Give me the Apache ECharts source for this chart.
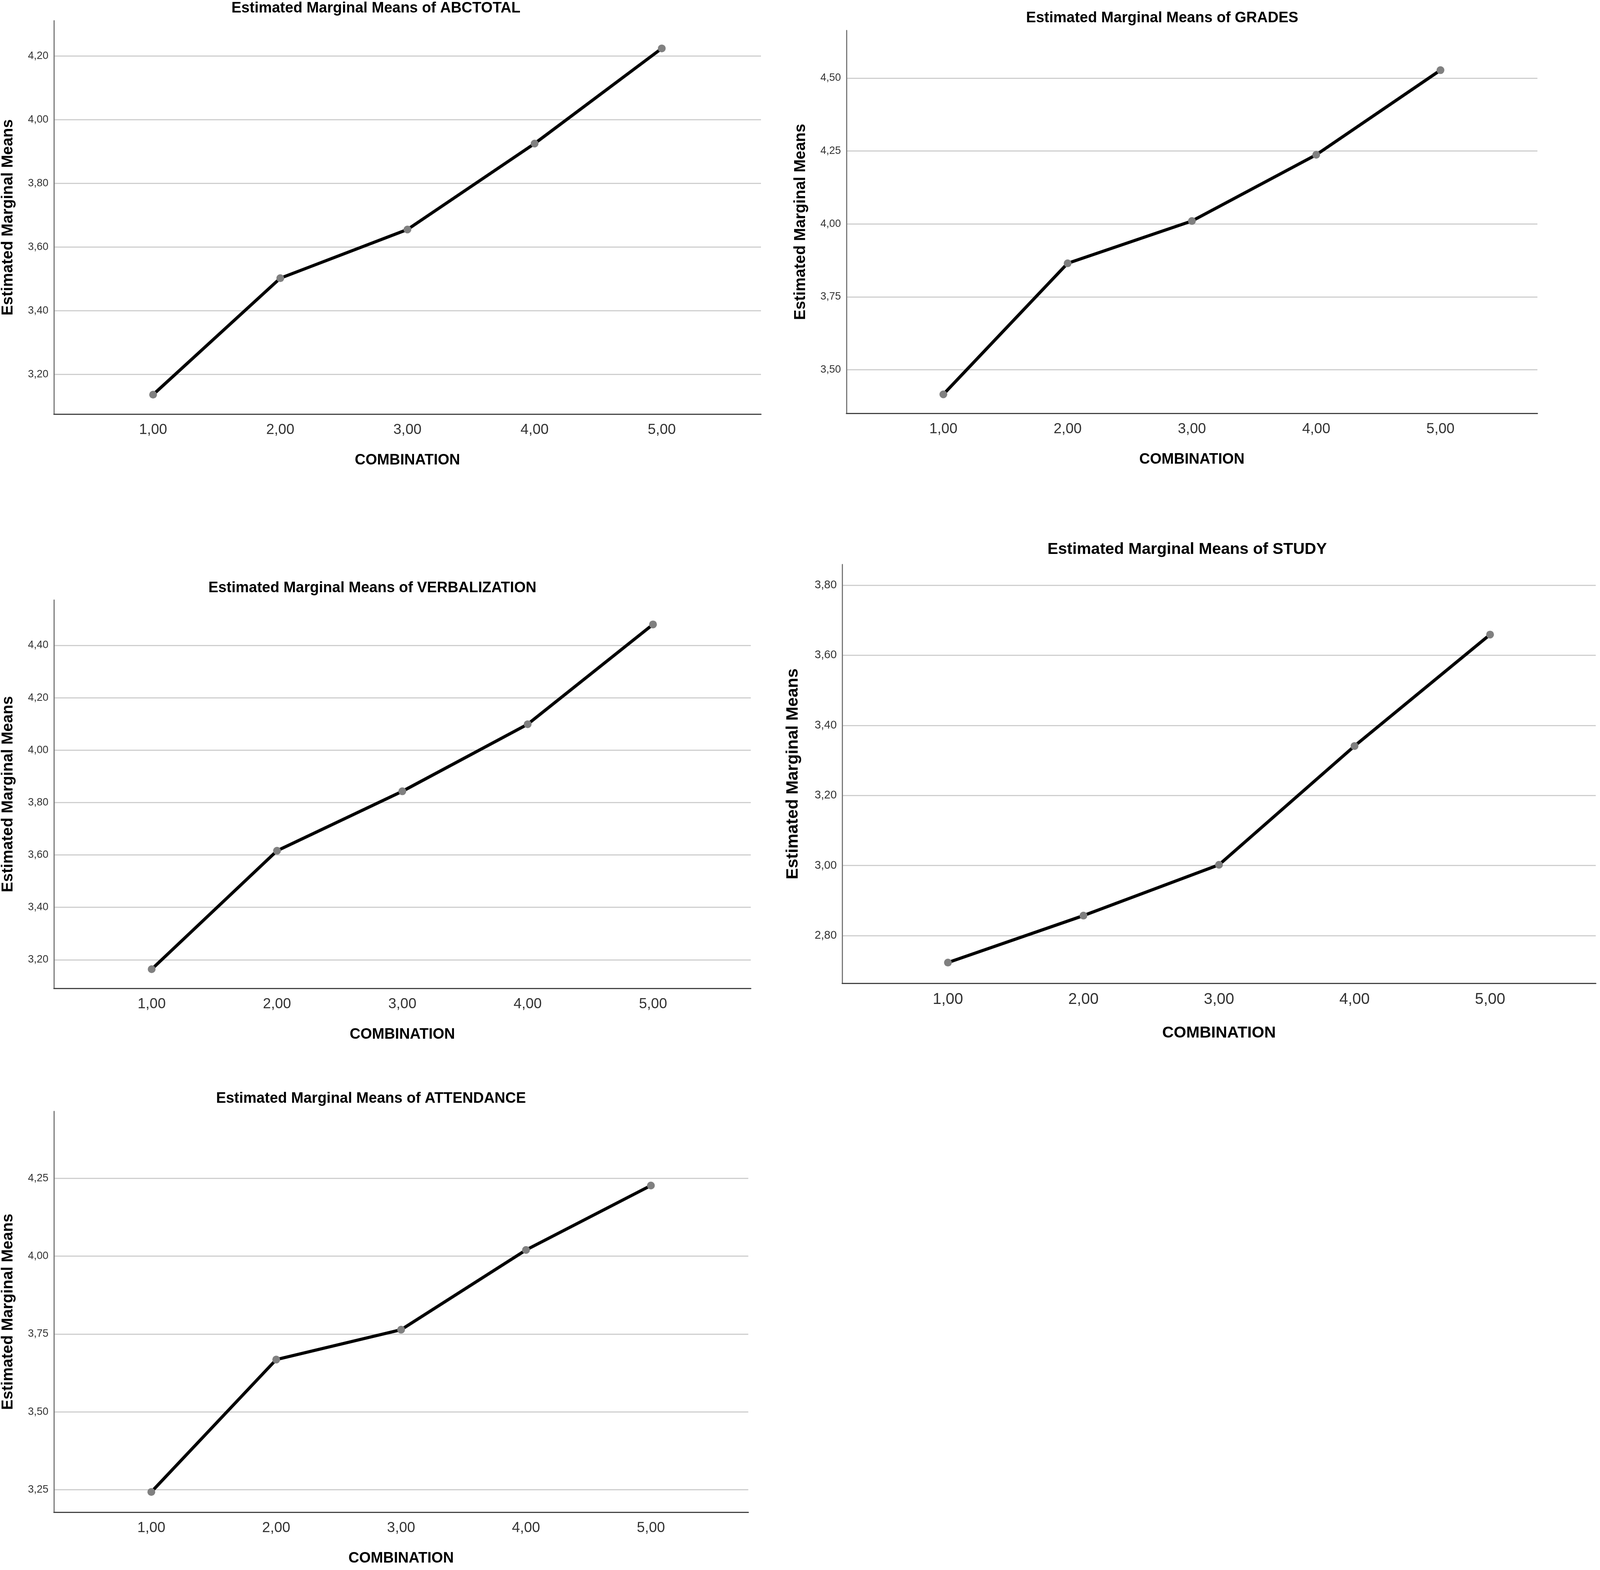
<!DOCTYPE html>
<html>
<head>
<meta charset="utf-8">
<title>Estimated Marginal Means</title>
<script src="https://cdn.jsdelivr.net/npm/echarts@6/dist/echarts.min.js"></script>
<style>
  html, body { margin: 0; padding: 0; background: #fff; overflow: hidden; }
</style>
</head>
<body>
<div id="chart"></div>
<script>
// combination levels on the x axis
const combos = [1, 2, 3, 4, 5];
const xTicks = [1, 2, 3, 4, 5];

// estimated marginal means
const abctotal = [3.136, 3.502, 3.655, 3.925, 4.224];
const grades = [3.416, 3.865, 4.010, 4.237, 4.527];
const verbalization = [3.164, 3.616, 3.843, 4.099, 4.480];
const study = [2.723, 2.857, 3.002, 3.341, 3.659];
const attendance = [3.243, 3.668, 3.764, 4.020, 4.227];

// y tick labels of each plot
const abctotalTicks = [3.2, 3.4, 3.6, 3.8, 4.0, 4.2];
const gradesTicks = [3.5, 3.75, 4.0, 4.25, 4.5];
const verbalizationTicks = [3.2, 3.4, 3.6, 3.8, 4.0, 4.2, 4.4];
const studyTicks = [2.8, 3.0, 3.2, 3.4, 3.6, 3.8];
const attendanceTicks = [3.25, 3.5, 3.75, 4.0, 4.25];

const names = ['ABCTOTAL', 'GRADES', 'VERBALIZATION', 'STUDY', 'ATTENDANCE'];
const values = [abctotal, grades, verbalization, study, attendance];
const ticks = [abctotalTicks, gradesTicks, verbalizationTicks, studyTicks, attendanceTicks];

// plot boxes, axis ranges and title spots, in pixels of the 4550x4019 original
const panels = [
  { left: 149, top: 53, right: 2164, bottom: 1060, yMin: 3.075, yMax: 4.311, tx: 1069, ty: 22, f: 1 },
  { left: 2407, top: 78, right: 4372, bottom: 1058, yMin: 3.351, yMax: 4.663, tx: 3305, ty: 47, f: 1 },
  { left: 146, top: 1536, right: 2135, bottom: 2530, yMin: 3.091, yMax: 4.573, tx: 1059, ty: 1506, f: 1 },
  { left: 2395, top: 1445, right: 4538, bottom: 2517, yMin: 2.664, yMax: 3.859, tx: 3376, ty: 1407, f: 1.07 },
  { left: 149, top: 2845, right: 2128, bottom: 3871, yMin: 3.178, yMax: 4.465, tx: 1055, ty: 2813, f: 1 },
];

// the browser may give less width than asked; squeeze x to fit it
const W = Math.min(window.innerWidth || 4550, 4550);
const H = 4019;
const SX = W / 4550;
const FS = 0.93; // font squeeze for horizontal text
const el = document.getElementById('chart');
el.style.width = W + 'px';
el.style.height = H + 'px';

const FONT = '"Liberation Sans", Arial, sans-serif';
const comma = v => v.toFixed(2).replace('.', ',');

const chart = echarts.init(el, null, { renderer: 'canvas', width: W, height: H });

const option = {
  animation: false,
  backgroundColor: '#ffffff',
  graphic: panels.map((p, i) => ({
    type: 'text',
    x: p.tx * SX,
    y: p.ty,
    style: {
      text: `Estimated Marginal Means of ${names[i]}`,
      fontFamily: FONT,
      fontWeight: 'bold',
      fontSize: Math.round(41 * p.f * FS),
      fill: '#000',
      align: 'center',
      verticalAlign: 'middle',
    },
  })),
  grid: panels.map(p => ({
    left: p.left * SX,
    top: p.top,
    width: (p.right - p.left) * SX,
    height: p.bottom - p.top,
  })),
  xAxis: panels.map((p, i) => ({
    type: 'value',
    gridIndex: i,
    min: 0.22,
    max: 5.78,
    name: 'COMBINATION',
    nameLocation: 'middle',
    nameGap: Math.round(100 * p.f),
    nameTextStyle: { fontFamily: FONT, fontWeight: 'bold', fontSize: Math.round(41 * p.f * FS), color: '#000' },
    axisLine: { show: true, onZero: false, lineStyle: { color: '#444', width: 3 } },
    axisTick: { show: false, customValues: xTicks },
    axisLabel: {
      customValues: xTicks,
      formatter: comma,
      margin: 22,
      fontFamily: FONT,
      fontSize: Math.round(40 * p.f * FS),
      color: '#333',
    },
    splitLine: { show: false },
  })),
  yAxis: panels.map((p, i) => ({
    type: 'value',
    gridIndex: i,
    min: p.yMin,
    max: p.yMax,
    name: 'Estimated Marginal Means',
    nameLocation: 'middle',
    nameGap: Math.round(108 * p.f * SX),
    nameTextStyle: { fontFamily: FONT, fontWeight: 'bold', fontSize: Math.round(40 * p.f), color: '#000' },
    axisLine: { show: true, onZero: false, lineStyle: { color: '#7a7a7a', width: 3 } },
    axisTick: { show: false, customValues: ticks[i] },
    axisLabel: {
      customValues: ticks[i],
      formatter: comma,
      margin: Math.round(15 * SX),
      fontFamily: FONT,
      fontSize: Math.round(29 * p.f * FS),
      color: '#333',
    },
    splitLine: { show: true, lineStyle: { color: '#cfcfcf', width: 3 } },
  })),
  series: panels.map((p, i) => ({
    type: 'line',
    name: names[i],
    xAxisIndex: i,
    yAxisIndex: i,
    data: combos.map((c, k) => [c, values[i][k]]),
    lineStyle: { color: '#000', width: 8 },
    symbol: 'circle',
    symbolSize: 20,
    itemStyle: { color: '#808080', borderWidth: 0 },
    z: 3,
  })),
};

chart.setOption(option);
</script>
</body>
</html>
